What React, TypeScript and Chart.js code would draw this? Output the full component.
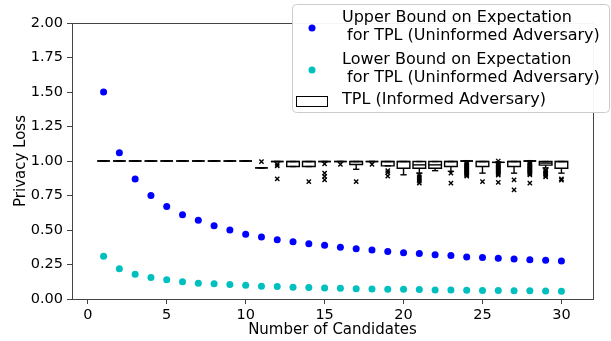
import React, { useEffect, useRef } from "react";
import { Chart, registerables } from "chart.js";

Chart.register(...registerables);

// ---------- data ----------
const candidates = [1, 2, 3, 4, 5, 6, 7, 8, 9, 10, 11, 12, 13, 14, 15, 16, 17, 18, 19, 20, 21, 22, 23, 24, 25, 26, 27, 28, 29, 30];
const upperBound = [1.5, 1.06, 0.87, 0.75, 0.67, 0.61, 0.57, 0.53, 0.5, 0.47, 0.45, 0.43, 0.415, 0.4, 0.39, 0.375, 0.365, 0.355, 0.345, 0.335, 0.33, 0.32, 0.315, 0.305, 0.3, 0.295, 0.29, 0.285, 0.28, 0.275];
const lowerBound = [0.31, 0.22, 0.18, 0.155, 0.14, 0.125, 0.115, 0.11, 0.105, 0.1, 0.093, 0.09, 0.086, 0.083, 0.08, 0.078, 0.075, 0.073, 0.071, 0.07, 0.068, 0.066, 0.065, 0.063, 0.062, 0.061, 0.06, 0.059, 0.058, 0.057];

// box plot statistics for TPL (Informed Adversary)
const boxQ1 = [1, 1, 1, 1, 1, 1, 1, 1, 1, 1, 0.95, 0.996, 0.96, 0.96, 0.996, 0.996, 0.975, 0.996, 0.965, 0.948, 0.948, 0.948, 0.96, 1, 0.96, 0.99, 0.96, 1, 0.97, 0.948];
const boxMedian = [1, 1, 1, 1, 1, 1, 1, 1, 1, 1, 0.95, 0.996, 0.996, 0.996, 0.996, 0.996, 0.996, 0.996, 0.996, 0.996, 0.972, 0.972, 0.996, 1, 0.996, 0.99, 0.996, 1, 0.985, 0.996];
const boxQ3 = [1, 1, 1, 1, 1, 1, 1, 1, 1, 1, 0.95, 0.996, 0.996, 0.996, 0.996, 0.996, 0.996, 0.996, 0.996, 0.996, 0.996, 0.996, 0.996, 1, 0.996, 0.99, 0.996, 1, 0.996, 0.996];
const whiskerLow = [1, 1, 1, 1, 1, 1, 1, 1, 1, 1, 0.95, 0.996, 0.96, 0.96, 0.996, 0.996, 0.94, 0.996, 0.965, 0.9, 0.912, 0.93, 0.925, 1, 0.912, 0.99, 0.912, 1, 0.95, 0.912];
const whiskerHigh = [1, 1, 1, 1, 1, 1, 1, 1, 1, 1, 0.95, 0.996, 0.996, 0.996, 0.996, 0.996, 0.996, 0.996, 0.996, 0.996, 0.996, 0.996, 0.996, 1, 0.996, 0.99, 0.996, 1, 0.996, 0.996];
const boxFliers: number[][] = [
  [], [], [], [], [], [], [], [], [], [],
  [0.996],
  [0.975, 0.965, 0.87],
  [],
  [0.851],
  [0.98, 0.912, 0.888, 0.864],
  [0.975],
  [0.851],
  [0.975],
  [0.93, 0.915, 0.89],
  [],
  [0.9, 0.885, 0.87, 0.855, 0.84],
  [],
  [0.912, 0.84],
  [0.99, 0.983, 0.976, 0.969, 0.962, 0.955, 0.948, 0.941, 0.934, 0.927, 0.92, 0.913, 0.906, 0.899, 0.89],
  [0.851],
  [1.0, 0.983, 0.976, 0.969, 0.962, 0.955, 0.948, 0.941, 0.934, 0.927, 0.92, 0.913, 0.905, 0.897, 0.845],
  [0.864, 0.79],
  [0.99, 0.983, 0.976, 0.969, 0.962, 0.955, 0.948, 0.941, 0.934, 0.927, 0.92, 0.913, 0.906, 0.899, 0.84],
  [0.935, 0.925, 0.915, 0.905, 0.895, 0.885],
  [0.87, 0.862],
];

const xTicks = [0, 5, 10, 15, 20, 25, 30];
const yTicks = [0, 0.25, 0.5, 0.75, 1.0, 1.25, 1.5, 1.75, 2.0];

const legendUpper = ["Upper Bound on Expectation", " for TPL (Uninformed Adversary)"];
const legendLower = ["Lower Bound on Expectation", " for TPL (Uninformed Adversary)"];
const legendBox = "TPL (Informed Adversary)";

// ---------- styles ----------
const FONT = "DejaVu Sans";
const BLUE = "#0000ff";
const CYAN = "#00bfbf";
const SPINE = "#444444";
const BOX_WIDTH = 0.8;

export default function App() {
  const ref = useRef<HTMLCanvasElement>(null);

  useEffect(() => {
    document.body.style.margin = "0";
    const canvas = ref.current!;
    const flierPoints = candidates.flatMap((c, i) => boxFliers[i].map((v) => ({ x: c, y: v })));

    const boxPlugin = {
      id: "boxPlot",
      afterDatasetsDraw(chart: any) {
        const { ctx, scales } = chart;
        const xs = scales.x;
        const ys = scales.y;
        ctx.save();
        ctx.strokeStyle = "#000";
        ctx.lineWidth = 1.4;
        const line = (x1: number, y1: number, x2: number, y2: number) => {
          ctx.beginPath();
          ctx.moveTo(x1, y1);
          ctx.lineTo(x2, y2);
          ctx.stroke();
        };
        candidates.forEach((c, i) => {
          const cx = xs.getPixelForValue(c);
          const hw = xs.getPixelForValue(c + BOX_WIDTH / 2) - cx;
          const y1 = ys.getPixelForValue(boxQ1[i]);
          const y3 = ys.getPixelForValue(boxQ3[i]);
          const ym = ys.getPixelForValue(boxMedian[i]);
          const yl = ys.getPixelForValue(whiskerLow[i]);
          const yh = ys.getPixelForValue(whiskerHigh[i]);
          line(cx, y1, cx, yl);
          line(cx, y3, cx, yh);
          line(cx - hw / 2, yl, cx + hw / 2, yl);
          line(cx - hw / 2, yh, cx + hw / 2, yh);
          ctx.beginPath();
          ctx.moveTo(cx - hw, y1);
          ctx.lineTo(cx + hw, y1);
          ctx.lineTo(cx + hw, y3);
          ctx.lineTo(cx - hw, y3);
          ctx.closePath();
          ctx.stroke();
          line(cx - hw, ym, cx + hw, ym);
        });
        ctx.restore();
      },
      afterDraw(chart: any) {
        const { ctx, chartArea } = chart;
        ctx.save();
        ctx.strokeStyle = SPINE;
        ctx.lineWidth = 1;
        ctx.beginPath();
        ctx.moveTo(chartArea.left, chartArea.top + 0.5);
        ctx.lineTo(chartArea.right + 0.5, chartArea.top + 0.5);
        ctx.lineTo(chartArea.right + 0.5, chartArea.bottom);
        ctx.stroke();

        // legend
        const lx = 292.5, ly = 4.5, lw = 317, lh = 108, r = 4;
        ctx.beginPath();
        ctx.moveTo(lx + r, ly);
        ctx.lineTo(lx + lw - r, ly);
        ctx.arcTo(lx + lw, ly, lx + lw, ly + r, r);
        ctx.lineTo(lx + lw, ly + lh - r);
        ctx.arcTo(lx + lw, ly + lh, lx + lw - r, ly + lh, r);
        ctx.lineTo(lx + r, ly + lh);
        ctx.arcTo(lx, ly + lh, lx, ly + lh - r, r);
        ctx.lineTo(lx, ly + r);
        ctx.arcTo(lx, ly, lx + r, ly, r);
        ctx.closePath();
        ctx.fillStyle = "rgba(255,255,255,0.95)";
        ctx.fill();
        ctx.strokeStyle = "#cccccc";
        ctx.stroke();

        ctx.fillStyle = BLUE;
        ctx.beginPath();
        ctx.arc(312, 28, 3.5, 0, Math.PI * 2);
        ctx.fill();
        ctx.fillStyle = CYAN;
        ctx.beginPath();
        ctx.arc(312, 70, 3.5, 0, Math.PI * 2);
        ctx.fill();
        ctx.fillStyle = "#fff";
        ctx.strokeStyle = "#000";
        ctx.lineWidth = 1;
        ctx.fillRect(296.5, 96.5, 31, 10);
        ctx.strokeRect(296.5, 96.5, 31, 10);

        ctx.fillStyle = "#000";
        ctx.font = `16px "${FONT}"`;
        ctx.textAlign = "left";
        ctx.textBaseline = "middle";
        ctx.fillText(legendUpper[0], 342, 18);
        ctx.fillText(legendUpper[1], 342, 36);
        ctx.fillText(legendLower[0], 342, 60);
        ctx.fillText(legendLower[1], 342, 78);
        ctx.fillText(legendBox, 342, 100);
        ctx.restore();
      },
    };

    const chart = new Chart(canvas, {
      type: "scatter",
      data: {
        datasets: [
          {
            label: legendUpper.join(""),
            data: candidates.map((c, i) => ({ x: c, y: upperBound[i] })),
            backgroundColor: BLUE,
            borderColor: BLUE,
            pointRadius: 3.5,
            borderWidth: 0,
          },
          {
            label: legendLower.join(""),
            data: candidates.map((c, i) => ({ x: c, y: lowerBound[i] })),
            backgroundColor: CYAN,
            borderColor: CYAN,
            pointRadius: 3.5,
            borderWidth: 0,
          },
          {
            label: legendBox,
            data: flierPoints,
            pointStyle: "crossRot",
            pointRadius: 3,
            borderColor: "#000",
            backgroundColor: "rgba(0,0,0,0)",
            borderWidth: 1.4,
          },
        ],
      },
      options: {
        responsive: false,
        animation: false,
        events: [],
        layout: { padding: { top: 23, right: 18, left: 0, bottom: 0 } },
        plugins: { legend: { display: false }, tooltip: { enabled: false } },
        scales: {
          x: {
            type: "linear",
            min: -1,
            max: 32,
            afterBuildTicks: (axis: any) => {
              axis.ticks = xTicks.map((v) => ({ value: v }));
            },
            afterFit: (axis: any) => {
              axis.height = 42;
            },
            grid: { display: true, drawOnChartArea: false, drawTicks: true, tickLength: 5, color: SPINE },
            border: { display: true, color: SPINE, width: 1 },
            ticks: { color: "#000", font: { family: FONT, size: 14.5 }, padding: 3, maxRotation: 0, autoSkip: false },
            title: { display: true, text: "Number of Candidates", color: "#000", font: { family: FONT, size: 15 }, padding: { top: 0, bottom: 2 } },
          },
          y: {
            type: "linear",
            min: 0,
            max: 2,
            afterBuildTicks: (axis: any) => {
              axis.ticks = yTicks.map((v) => ({ value: v }));
            },
            afterFit: (axis: any) => {
              axis.width = 72;
            },
            grid: { display: true, drawOnChartArea: false, drawTicks: true, tickLength: 5, color: SPINE },
            border: { display: true, color: SPINE, width: 1 },
            ticks: {
              color: "#000",
              font: { family: FONT, size: 14.5 },
              padding: 4,
              autoSkip: false,
              callback: (v: any) => Number(v).toFixed(2),
            },
            title: { display: true, text: "Privacy Loss", color: "#000", font: { family: FONT, size: 15 }, padding: { top: 12, bottom: 0 } },
          },
        },
      },
      plugins: [boxPlugin],
    });
    return () => chart.destroy();
  }, []);

  return (
    <div style={{ width: 611, height: 341 }}>
      <canvas ref={ref} width={611} height={341} style={{ display: "block" }} />
    </div>
  );
}
